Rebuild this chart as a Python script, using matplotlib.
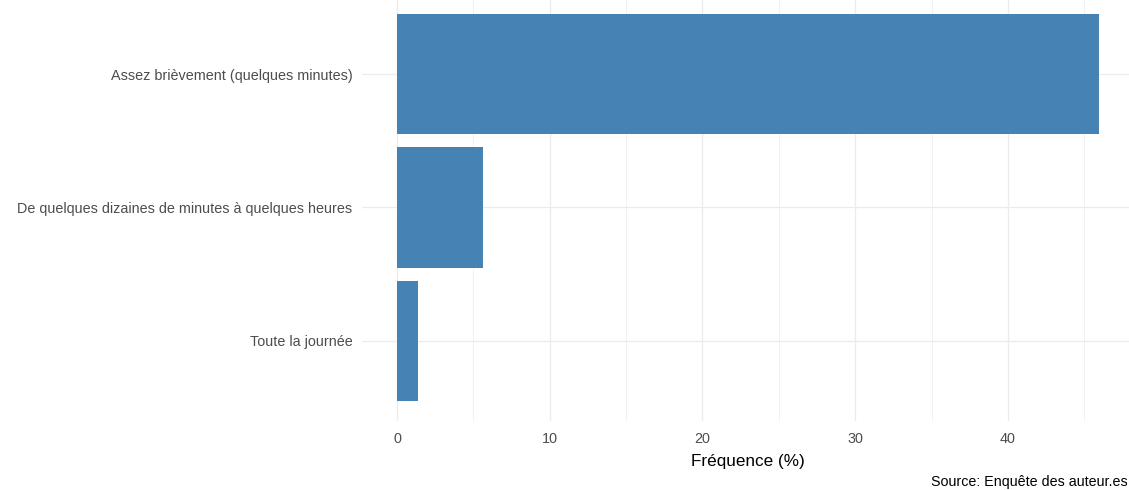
import matplotlib
matplotlib.use("Agg")
import matplotlib.pyplot as plt
from matplotlib.ticker import MultipleLocator

plt.rcParams['font.family'] = ['Liberation Sans', 'DejaVu Sans']

categories = ["Toute la journée",
              "De quelques dizaines de minutes à quelques heures",
              "Assez brièvement (quelques minutes)"]
values = [1.4, 5.6, 46.0]
xticks = [0, 10, 20, 30, 40]
xlabel = "Fréquence (%)"
caption = "Source: Enquête des auteur.es"

W, H = 1129, 490
fig = plt.figure(figsize=(W / 100, H / 100), dpi=100)
left_px, right_px, top_px, bot_px = 362, 1134.6, -6, 421
ax = fig.add_axes([left_px / W, 1 - bot_px / H, (right_px - left_px) / W, (bot_px - top_px) / H])

ypos = list(range(1, len(categories) + 1))
ax.barh(ypos, values, height=0.9, color="#4682B4", zorder=3)

ax.set_xlim(-0.05 * max(values), max(values) * 1.05)
ax.set_ylim(0.4, len(categories) + 0.6)
ax.set_yticks(ypos)
ax.set_yticklabels(categories)
ax.set_xticks(xticks)
ax.xaxis.set_minor_locator(MultipleLocator(5))

for s in ax.spines.values():
    s.set_visible(False)
ax.tick_params(axis='both', which='both', length=0, colors="#4D4D4D", labelsize=10.4)
ax.tick_params(axis='y', pad=7)
ax.tick_params(axis='x', pad=8)
ax.grid(which='major', axis='both', color="#EBEBEB", linewidth=0.9, zorder=0)
ax.grid(which='minor', axis='x', color="#EFEFEF", linewidth=0.6, zorder=0)
ax.set_axisbelow(True)

ax.set_xlabel(xlabel, fontsize=12.3, color="black", labelpad=6)
fig.text(1128 / W, 1 - 482 / H, caption, ha='right', va='center', fontsize=10.3, color="black")

fig.savefig("out.png", dpi=100)
